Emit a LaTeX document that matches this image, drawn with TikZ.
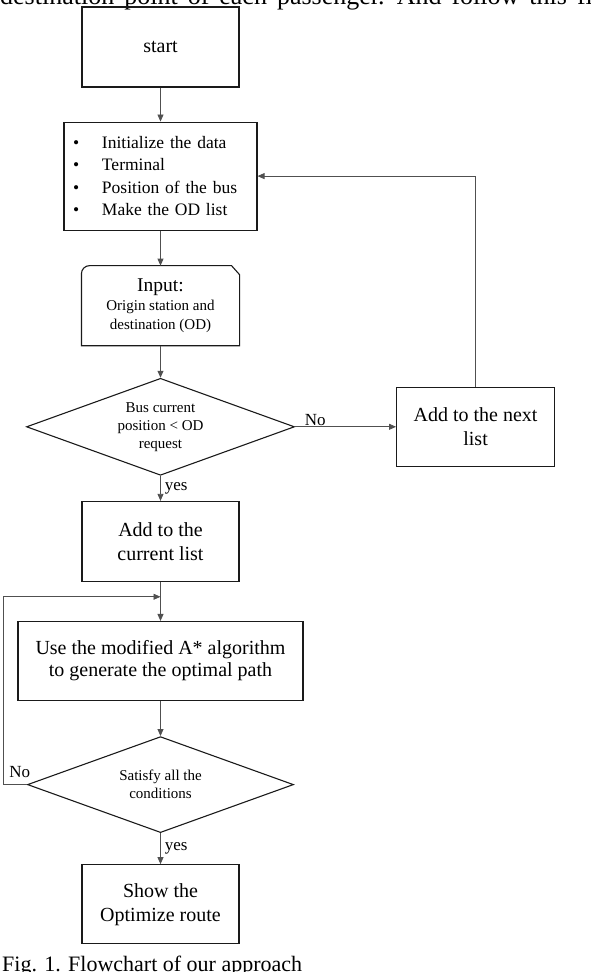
\documentclass[tikz,border=0pt]{standalone}
\usepackage{fontspec}
\setmainfont{Liberation Serif}
\usetikzlibrary{shapes.geometric, arrows.meta, positioning, calc}
\definecolor{BoxLine}{HTML}{1A1A1A}
\definecolor{FlowLine}{HTML}{505050}

\begin{document}
\begin{tikzpicture}[
    node distance=34pt and 100pt,
    pbox/.style={rectangle, draw=BoxLine, line width=1.1pt, minimum width=157pt, minimum height=80pt, align=center, inner sep=2pt, font=\fontsize{20}{24}\selectfont},
    dec/.style={diamond, draw=BoxLine, line width=1.1pt, aspect=2.76, inner sep=0pt, align=center, font=\fontsize{15}{18}\selectfont},
    lbl/.style={inner sep=1pt, text=black, font=\fontsize{17}{19}\selectfont},
    arr/.style={-{Triangle[length=7pt, width=6pt]}, line width=0.8pt, FlowLine}
  ]
  \useasboundingbox (0,0) rectangle (590pt,-972pt);

  \node[anchor=base west, inner sep=0pt, font={\fontsize{26}{30}\selectfont\spaceskip=10pt\relax}] (toptext) at (0pt,-4.5pt) {destination point of each passenger. And follow this fl};
  \node[anchor=base west, inner sep=0pt, font=\fontsize{22}{26}\selectfont] (caption) at (2pt,-971pt) {Fig. 1. Flowchart of our approach};

  \node[pbox] (start) at (160.5pt,-47pt) {start};
  \node[pbox, below=34pt of start, minimum width=193pt, minimum height=108pt, text width=175pt, inner xsep=9pt, align=left, font=\fontsize{17.5}{22.3}\selectfont] (init) {\makebox[29pt][l]{\textbullet}Initialize the data\\ \makebox[29pt][l]{\textbullet}Terminal\\ \makebox[29pt][l]{\textbullet}Position of the bus\\ \makebox[29pt][l]{\textbullet}Make the OD list};
  \node[pbox, draw=none, below=35pt of init, minimum height=79pt, font=\fontsize{15}{19}\selectfont] (inp) {{\fontsize{19.5}{22}\selectfont Input:}\\ Origin station and\\ destination (OD)};
  \node[dec, below=32pt of inp, minimum width=268pt, minimum height=97pt] (bus) {Bus current\\ position < OD\\ request};
  \node[pbox, right=101pt of bus, minimum width=158pt, minimum height=79pt] (nxt) {Add to the next\\ list};
  \node[pbox, below=25pt of bus] (cur) {Add to the\\ current list};
  \node[pbox, below=39pt of cur, minimum width=285pt, minimum height=79pt, font=\fontsize{20}{22}\selectfont] (astar) {Use the modified A* algorithm\\ to generate the optimal path};
  \node[dec, below=35pt of astar, minimum width=266pt, minimum height=96pt] (cond) {Satisfy all the\\ conditions};
  \node[pbox, below=31pt of cond, minimum height=79pt] (show) {Show the\\ Optimize route};

  \draw[BoxLine, line width=1.1pt] (inp.south west) -- ([yshift=-8pt]inp.north west) arc[start angle=180, end angle=90, radius=8pt] -- ([xshift=-8pt]inp.north east) -- ([yshift=-9pt]inp.north east) -- (inp.south east) -- cycle;

  \coordinate (back) at ($(cur.south)!0.38!(astar.north)$);

  \draw[arr] (start) -- (init);
  \draw[arr] (init) -- (inp);
  \draw[arr] (inp) -- (bus);
  \draw[arr] (bus) -- node[lbl, right, xshift=3pt] (yes1) {yes} (cur);
  \draw[arr] (bus) -- node[lbl, above, pos=0.2] (no1) {No} (nxt);
  \draw[arr] (nxt.north) |- (init.east);
  \draw[arr] (cur) -- (astar);
  \draw[arr] (astar) -- (cond);
  \draw[arr] (cond) -- node[lbl, right, xshift=3pt] (yes2) {yes} (show);
  \draw[arr] (cond.west) -- node[lbl, above=6pt, pos=0.3] (no2) {No} ++(-24pt,0) |- (back);
\end{tikzpicture}
\end{document}
